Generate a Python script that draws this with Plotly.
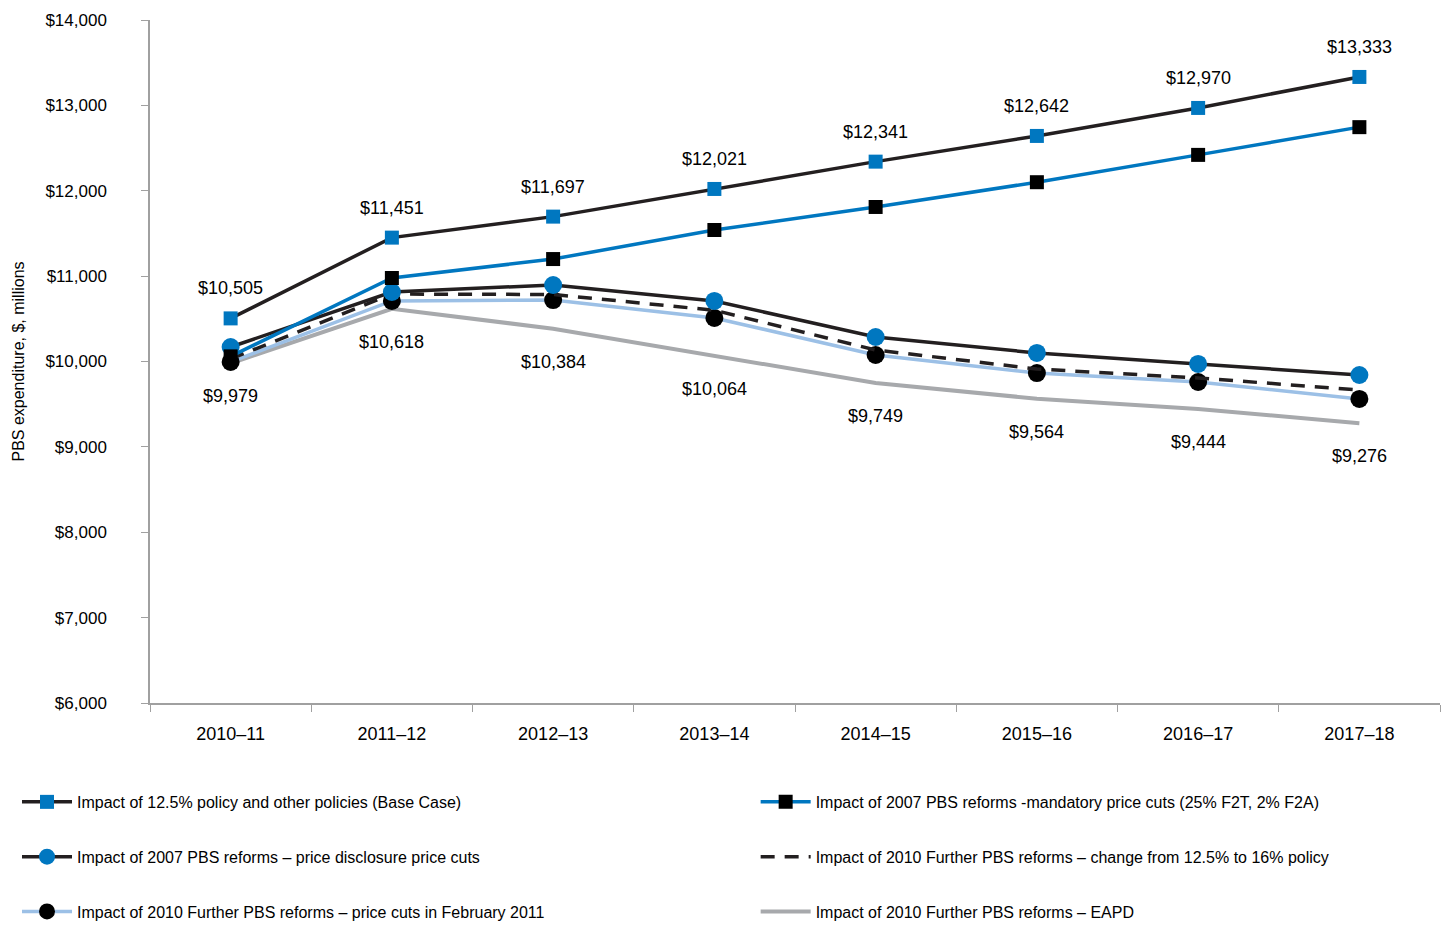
import plotly.graph_objects as go

years = ["2010–11", "2011–12", "2012–13", "2013–14", "2014–15", "2015–16", "2016–17", "2017–18"]

base_case = [10505, 11451, 11697, 12021, 12341, 12642, 12970, 13333]
mandatory_cuts = [10060, 10978, 11200, 11540, 11810, 12100, 12420, 12745]
disclosure_cuts = [10170, 10814, 10896, 10709, 10287, 10100, 9971, 9842]
policy_16 = [10030, 10790, 10785, 10600, 10135, 9912, 9807, 9666]
feb_2011_cuts = [9995, 10709, 10720, 10510, 10076, 9865, 9760, 9561]
eapd = [9979, 10618, 10384, 10064, 9749, 9564, 9444, 9276]

names = [
    "Impact of 12.5% policy and other policies (Base Case)",
    "Impact of 2007 PBS reforms -mandatory price cuts (25% F2T, 2% F2A)",
    "Impact of 2007 PBS reforms – price disclosure price cuts",
    "Impact of 2010 Further PBS reforms – change from 12.5% to 16% policy",
    "Impact of 2010 Further PBS reforms – price cuts in February 2011",
    "Impact of 2010 Further PBS reforms – EAPD",
]

BLUE = "#0077c0"
BLACK = "#231f20"
LBLUE = "#9cc0e6"
GREY = "#a7a9ac"
FONT = "Liberation Sans, Arial, sans-serif"

fig = go.Figure()

fig.add_trace(go.Scatter(x=years, y=eapd, name=names[5], mode="lines",
                         line=dict(color=GREY, width=4),
                         legend="legend2", legendgroup="g6", legendrank=3))
fig.add_trace(go.Scatter(x=years, y=feb_2011_cuts, name=names[4], mode="lines+markers",
                         line=dict(color=LBLUE, width=3.5),
                         marker=dict(symbol="circle", size=18, color="black"),
                         legend="legend", legendgroup="g5", legendrank=3))
fig.add_trace(go.Scatter(x=years, y=policy_16, name=names[3], mode="lines",
                         line=dict(color=BLACK, width=3.5, dash="14px,10px"),
                         legend="legend2", legendgroup="g4", legendrank=2))
fig.add_trace(go.Scatter(x=years, y=disclosure_cuts, name=names[2], mode="lines+markers",
                         line=dict(color=BLACK, width=3.5),
                         marker=dict(symbol="circle", size=18, color=BLUE),
                         legend="legend", legendgroup="g3", legendrank=2))
fig.add_trace(go.Scatter(x=years, y=mandatory_cuts, name=names[1], mode="lines+markers",
                         line=dict(color=BLUE, width=3.5),
                         marker=dict(symbol="square", size=14, color="black"),
                         legend="legend2", legendgroup="g2", legendrank=1))
fig.add_trace(go.Scatter(x=years, y=base_case, name=names[0], mode="lines+markers",
                         line=dict(color=BLACK, width=3.5),
                         marker=dict(symbol="square", size=14, color=BLUE),
                         legend="legend", legendgroup="g1", legendrank=1))

annotations = []
for x, v in zip(years, base_case):
    annotations.append(dict(x=x, y=v, text=f"${v:,}", showarrow=False, yshift=30,
                            font=dict(size=18, color="black", family=FONT)))
for x, v in zip(years, eapd):
    annotations.append(dict(x=x, y=v, text=f"${v:,}", showarrow=False, yshift=-33,
                            font=dict(size=18, color="black", family=FONT)))

legend_common = dict(orientation="v", yanchor="top", xanchor="left", tracegroupgap=31,
                     font=dict(size=16, color="black", family=FONT), itemwidth=50,
                     bgcolor="rgba(0,0,0,0)", traceorder="grouped")

fig.update_layout(
    width=1453, height=927,
    margin=dict(l=142, r=21, t=12, b=232, autoexpand=False),
    plot_bgcolor="white", paper_bgcolor="white",
    font=dict(family=FONT, size=17, color="black"),
    showlegend=True,
    annotations=annotations,
    legend=dict(x=-0.1031, y=-0.12, **legend_common),
    legend2=dict(x=0.4695, y=-0.12, **legend_common),
    xaxis=dict(range=[-0.5, 7.5], showline=True, linecolor="#a0a0a0", linewidth=1.5,
               ticks="outside", tickson="boundaries", ticklen=7, tickcolor="#a0a0a0",
               tickfont=dict(size=18, family=FONT, color="black"), showgrid=False,
               zeroline=False, tickangle=0, ticklabelstandoff=14, automargin=False),
    yaxis=dict(range=[6000, 14000], dtick=1000, tickprefix="$", tickformat=",",
               showline=True, linecolor="#a0a0a0", linewidth=1.5, ticks="outside",
               ticklen=7, tickcolor="#a0a0a0", showgrid=False, zeroline=False,
               tickfont=dict(size=17, family=FONT, color="black"),
               ticklabelstandoff=31, automargin=False,
               title=dict(text="PBS expenditure, $, millions", standoff=17,
                          font=dict(size=16, family=FONT, color="black"))),
)

fig.write_html("out.html")
